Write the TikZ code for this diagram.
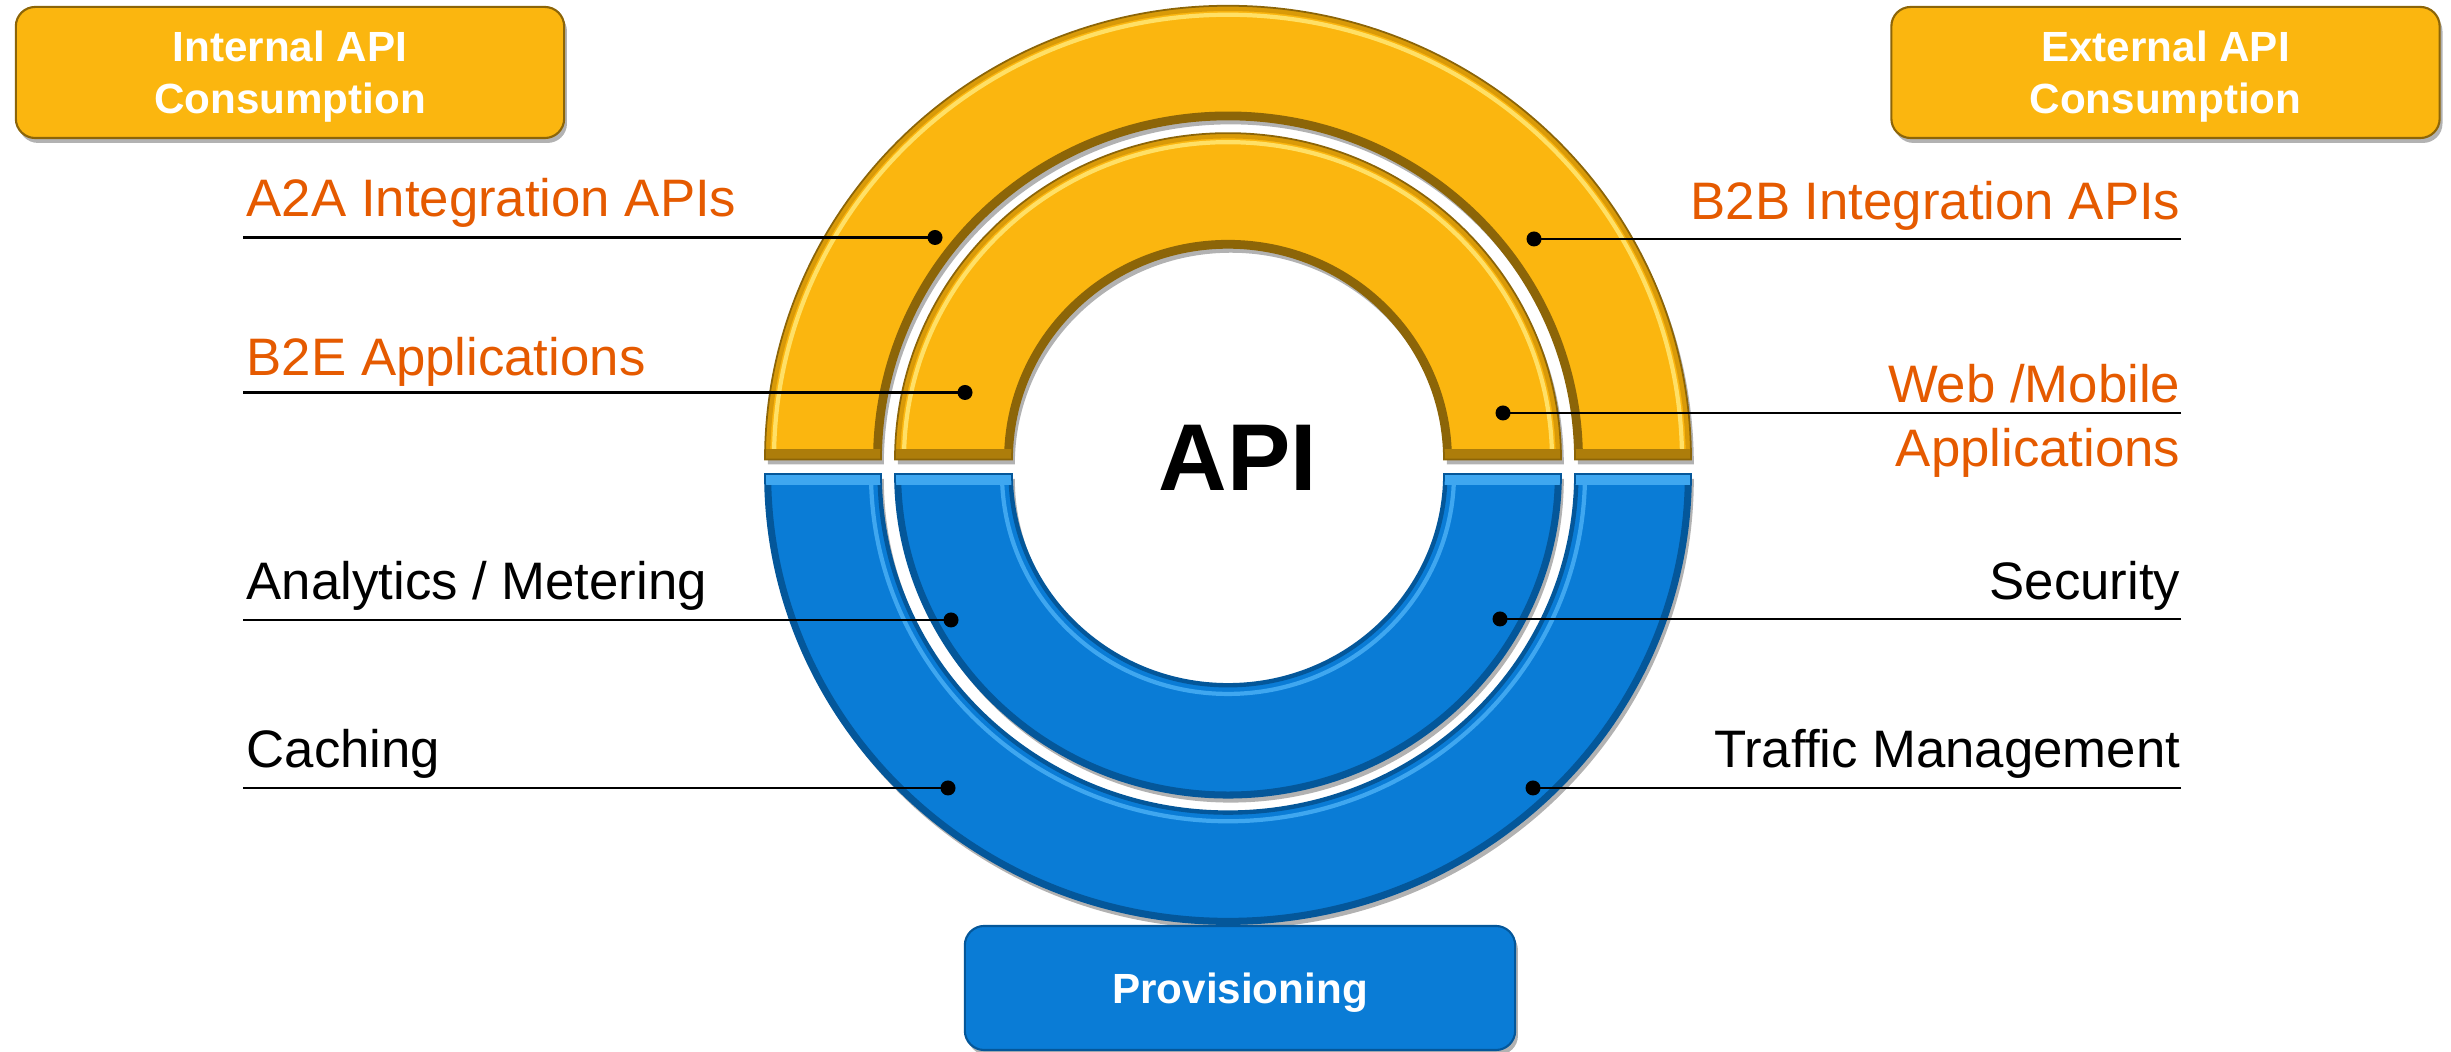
\documentclass[tikz,border=0pt]{standalone}
\usepackage{fontspec}
\setmainfont{Liberation Sans}
\usepackage{tikz}
\usetikzlibrary{shadows}

\definecolor{apiyellow}{HTML}{FBB60F}
\definecolor{apiyellowrim}{HTML}{D99A08}
\definecolor{apiyellowhi}{HTML}{FFE066}
\definecolor{apiyellowdk}{HTML}{8C6508}
\definecolor{apiblue}{HTML}{0A7CD6}
\definecolor{apibluehi}{HTML}{3FA7F0}
\definecolor{apibluedk}{HTML}{04579A}
\definecolor{apiorange}{HTML}{E55A00}

\newcommand{\upring}[2]{(1228-#1,592.5) arc[start angle=180,end angle=0,x radius=#1,y radius=0.98*#1] -- (1228+#2,592.5) arc[start angle=0,end angle=180,x radius=#2,y radius=0.98*#2] -- cycle}
\newcommand{\downring}[2]{(1228-#1,578) arc[start angle=180,end angle=360,x radius=#1,y radius=0.972*#1] -- (1228+#2,578) arc[start angle=360,end angle=180,x radius=#2,y radius=0.972*#2] -- cycle}

\begin{document}
\begin{tikzpicture}[x=0.01cm,y=0.01cm,
	ringshadow/.style={drop shadow={shadow xshift=.8pt,shadow yshift=-1.4pt,opacity=.3,fill=black}},
	apibox/.style={rounded corners=5.5pt,minimum width=5.48cm,minimum height=1.31cm,inner sep=0pt,align=center,text=white,text depth=0pt,font=\bfseries\fontsize{12}{14.8}\selectfont,line width=.6pt,ringshadow},
	goldbox/.style={apibox,fill=apiyellow,draw=apiyellowdk},
	bluebox/.style={apibox,fill=apiblue,draw=apibluedk,minimum width=5.5cm,minimum height=1.24cm},
	tag/.style={inner sep=0pt,font=\fontsize{15}{18.2}\selectfont},
	hottag/.style={tag,text=apiorange},
	link/.style={line width=.7pt}]
	\useasboundingbox (0,0) rectangle (2451,1052);
	\foreach \ro/\ri in {463/347,333/216}{
		\fill[apiyellow,ringshadow] \upring{\ro}{\ri};
		\begin{scope}
			\clip \upring{\ro}{\ri};
			\draw[apiyellowrim,line width=3pt] (1228,592.5) ellipse[x radius=\ro,y radius=0.98*\ro];
			\draw[apiyellowhi,line width=1.2pt] (1228,592.5) ellipse[x radius=\ro-9,y radius=0.98*\ro-9];
			\draw[apiyellowdk,line width=4.5pt] (1228,592.5) ellipse[x radius=\ri,y radius=0.98*\ri];
			\draw[apiyellowdk!70!apiyellow,line width=6pt] (1228-\ro,592.5) -- (1228+\ro,592.5);
		\end{scope}
		\draw[apiyellowdk,line width=.5pt] \upring{\ro}{\ri};
		\fill[apiblue,ringshadow] \downring{\ro}{\ri};
		\begin{scope}
			\clip \downring{\ro}{\ri};
			\draw[apibluedk,line width=3.5pt] (1228,578) ellipse[x radius=\ro,y radius=0.972*\ro];
			\draw[apibluedk,line width=2pt] (1228,578) ellipse[x radius=\ri,y radius=0.972*\ri];
			\draw[apibluehi,line width=1.2pt] (1228,578) ellipse[x radius=\ri+10,y radius=0.972*\ri+10];
			\draw[apibluehi,line width=6pt] (1228-\ro,578) -- (1228+\ro,578);
		\end{scope}
		\draw[apibluedk,line width=.5pt] \downring{\ro}{\ri};
	}
	\node[font=\bfseries\fontsize{27}{32}\selectfont] (api) at (1238,594) {API};
	\node[goldbox] (internal) at (290,979.5) {Internal API\\Consumption};
	\node[goldbox] (external) at (2165.5,979.5) {External API\\Consumption};
	\node[bluebox] (prov) at (1240,64) {Provisioning};
	\node[hottag,anchor=base west] (a2a) at (246,835) {A2A Integration APIs};
	\node[hottag,anchor=base west] (b2e) at (246,676) {B2E Applications};
	\node[tag,anchor=base west] (analytics) at (246,452) {Analytics / Metering};
	\node[tag,anchor=base west] (caching) at (246,284) {Caching};
	\node[hottag,anchor=base east] (b2b) at (2181,832) {B2B Integration APIs};
	\node[hottag,anchor=base east,align=right] (web) at (2181,585) {Web /Mobile\\Applications};
	\node[tag,anchor=base east] (security) at (2181,452) {Security};
	\node[tag,anchor=base east] (traffic) at (2181,284) {Traffic Management};
	\coordinate (a2a-l) at (243,814.5);
	\coordinate (a2a-d) at (935,814.5);
	\coordinate (b2e-l) at (243,659.5);
	\coordinate (b2e-d) at (965,659.5);
	\coordinate (analytics-l) at (243,432);
	\coordinate (analytics-d) at (951,432);
	\coordinate (caching-l) at (243,264);
	\coordinate (caching-d) at (948,264);
	\coordinate (b2b-l) at (2181,813);
	\coordinate (b2b-d) at (1534,813);
	\coordinate (web-l) at (2181,639);
	\coordinate (web-d) at (1503,639);
	\coordinate (security-l) at (2181,433);
	\coordinate (security-d) at (1500,433);
	\coordinate (traffic-l) at (2181,264);
	\coordinate (traffic-d) at (1533,264);
	\foreach \n in {a2a,b2e,analytics,caching,b2b,web,security,traffic}{
		\draw[link] (\n-l) -- (\n-d);
		\fill (\n-d) circle[radius=7.5];
	}
\end{tikzpicture}
\end{document}
